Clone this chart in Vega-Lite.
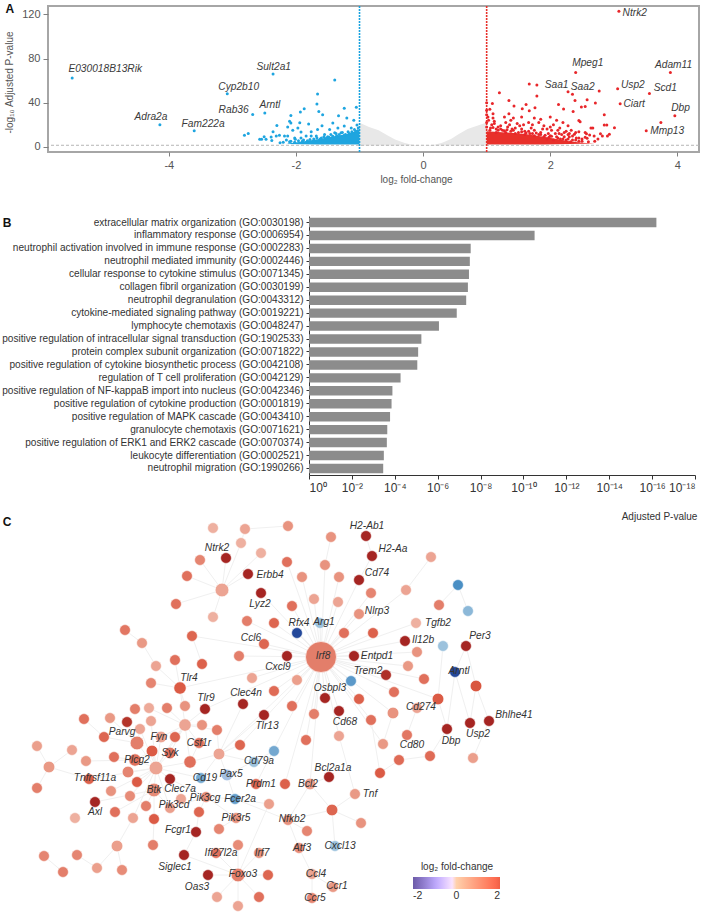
{"$schema":"https://vega.github.io/schema/vega-lite/v6.json",
"padding":{"left":1,"top":1,"right":0,"bottom":0},
"bounds":"flush","spacing":64,
"config":{"font":"Liberation Sans","view":{"stroke":null},"text":{"font":"Liberation Sans"}},
"datasets":{
"nodes":[
{"id":1,"x":212,"y":527,"fc":1,"degree":2},{"id":2,"x":244,"y":528,"fc":1.2,"degree":2},{"id":3,"x":287,"y":525,"fc":1.5,"degree":2},{"id":4,"x":330,"y":536,"fc":1.5,"degree":2},{"id":5,"x":365,"y":535,"fc":3.5,"degree":2},{"id":6,"x":371,"y":555,"fc":3.5,"degree":2},{"id":7,"x":240,"y":542,"fc":1,"degree":2},{"id":8,"x":260,"y":552,"fc":1,"degree":2},{"id":9,"x":225,"y":557,"fc":3.5,"degree":2},{"id":10,"x":199,"y":559,"fc":1.7,"degree":2},
{"id":11,"x":286,"y":561,"fc":2,"degree":2},{"id":12,"x":324,"y":564,"fc":1.5,"degree":2},{"id":13,"x":430,"y":556,"fc":1.2,"degree":2},{"id":14,"x":186,"y":575,"fc":2,"degree":2},{"id":15,"x":247,"y":573,"fc":3.5,"degree":2},{"id":16,"x":221,"y":589,"fc":1.2,"degree":6},{"id":17,"x":301,"y":576,"fc":1.5,"degree":2},{"id":18,"x":338,"y":576,"fc":1.5,"degree":2},{"id":19,"x":358,"y":579,"fc":3.5,"degree":2},{"id":20,"x":260,"y":592,"fc":3.5,"degree":2},
{"id":21,"x":370,"y":592,"fc":1.7,"degree":2},{"id":22,"x":405,"y":589,"fc":1.2,"degree":2},{"id":23,"x":457,"y":584,"fc":-2,"degree":2},{"id":24,"x":175,"y":603,"fc":2,"degree":2},{"id":25,"x":313,"y":598,"fc":1.2,"degree":2},{"id":26,"x":337,"y":601,"fc":1.2,"degree":2},{"id":27,"x":291,"y":605,"fc":2,"degree":2},{"id":28,"x":438,"y":604,"fc":1.8,"degree":2},{"id":29,"x":467,"y":610,"fc":-1.2,"degree":2},{"id":30,"x":212,"y":616,"fc":1,"degree":2},
{"id":31,"x":358,"y":613,"fc":1.5,"degree":2},{"id":32,"x":246,"y":620,"fc":1.8,"degree":2},{"id":33,"x":273,"y":622,"fc":2.2,"degree":2},{"id":34,"x":319,"y":622,"fc":-1,"degree":2},{"id":35,"x":296,"y":632,"fc":-3,"degree":2},{"id":36,"x":415,"y":622,"fc":1,"degree":2},{"id":37,"x":343,"y":632,"fc":2,"degree":2},{"id":38,"x":372,"y":632,"fc":2.3,"degree":2},{"id":39,"x":191,"y":635,"fc":2.2,"degree":2},{"id":40,"x":404,"y":640,"fc":3.5,"degree":2},
{"id":41,"x":263,"y":643,"fc":2.2,"degree":2},{"id":42,"x":442,"y":645,"fc":-1,"degree":2},{"id":43,"x":465,"y":645,"fc":3.5,"degree":2},{"id":44,"x":416,"y":651,"fc":1.5,"degree":2},{"id":45,"x":238,"y":655,"fc":1.8,"degree":2},{"id":46,"x":286,"y":655,"fc":3.5,"degree":2},{"id":47,"x":320,"y":656,"fc":1.8,"degree":50},{"id":48,"x":353,"y":655,"fc":3.5,"degree":2},{"id":49,"x":174,"y":659,"fc":2,"degree":2},{"id":50,"x":201,"y":663,"fc":2.3,"degree":2},
{"id":51,"x":155,"y":665,"fc":1.2,"degree":2},{"id":52,"x":407,"y":665,"fc":1.4,"degree":2},{"id":53,"x":454,"y":671,"fc":-3,"degree":2},{"id":54,"x":385,"y":674,"fc":3.3,"degree":2},{"id":55,"x":423,"y":678,"fc":2,"degree":2},{"id":56,"x":251,"y":677,"fc":1.2,"degree":2},{"id":57,"x":296,"y":679,"fc":1.3,"degree":2},{"id":58,"x":350,"y":680,"fc":-1.8,"degree":2},{"id":59,"x":475,"y":685,"fc":2.5,"degree":3},{"id":60,"x":179,"y":687,"fc":2.4,"degree":4},
{"id":61,"x":150,"y":682,"fc":1.7,"degree":2},{"id":62,"x":273,"y":690,"fc":2.1,"degree":2},{"id":63,"x":324,"y":697,"fc":3.5,"degree":2},{"id":64,"x":393,"y":691,"fc":2,"degree":2},{"id":65,"x":358,"y":698,"fc":2.3,"degree":2},{"id":66,"x":437,"y":698,"fc":2.4,"degree":3},{"id":67,"x":242,"y":703,"fc":3.5,"degree":2},{"id":68,"x":204,"y":708,"fc":3.5,"degree":2},{"id":69,"x":184,"y":705,"fc":1.5,"degree":2},{"id":70,"x":166,"y":707,"fc":1.8,"degree":2},
{"id":71,"x":291,"y":705,"fc":2,"degree":2},{"id":72,"x":338,"y":710,"fc":3.5,"degree":2},{"id":73,"x":263,"y":714,"fc":3.5,"degree":2},{"id":74,"x":392,"y":712,"fc":1.5,"degree":3},{"id":75,"x":416,"y":707,"fc":1.2,"degree":2},{"id":76,"x":406,"y":734,"fc":1.9,"degree":2},{"id":77,"x":446,"y":728,"fc":3.5,"degree":2},{"id":78,"x":469,"y":722,"fc":3.5,"degree":2},{"id":79,"x":488,"y":720,"fc":3.5,"degree":2},{"id":80,"x":313,"y":713,"fc":1.8,"degree":2},
{"id":81,"x":370,"y":719,"fc":2,"degree":2},{"id":82,"x":338,"y":735,"fc":1.2,"degree":2},{"id":83,"x":305,"y":739,"fc":2,"degree":2},{"id":84,"x":382,"y":743,"fc":1.4,"degree":2},{"id":85,"x":429,"y":755,"fc":2.1,"degree":2},{"id":86,"x":472,"y":757,"fc":1.3,"degree":2},{"id":87,"x":398,"y":759,"fc":2.1,"degree":2},{"id":88,"x":379,"y":772,"fc":2.4,"degree":2},{"id":89,"x":328,"y":776,"fc":3.5,"degree":2},{"id":90,"x":309,"y":783,"fc":1.3,"degree":3},
{"id":91,"x":284,"y":783,"fc":2.3,"degree":2},{"id":92,"x":354,"y":793,"fc":1.4,"degree":2},{"id":93,"x":331,"y":809,"fc":2.2,"degree":3},{"id":94,"x":360,"y":822,"fc":1.5,"degree":2},{"id":95,"x":287,"y":819,"fc":1.5,"degree":2},{"id":96,"x":306,"y":830,"fc":1.7,"degree":2},{"id":97,"x":298,"y":847,"fc":1.6,"degree":2},{"id":98,"x":334,"y":845,"fc":-1,"degree":2},{"id":99,"x":311,"y":873,"fc":1.2,"degree":2},{"id":100,"x":332,"y":886,"fc":1.4,"degree":2},
{"id":101,"x":311,"y":897,"fc":1.7,"degree":2},{"id":102,"x":134,"y":708,"fc":1.8,"degree":2},{"id":103,"x":148,"y":707,"fc":1.1,"degree":2},{"id":104,"x":83,"y":718,"fc":2,"degree":2},{"id":105,"x":109,"y":717,"fc":1.4,"degree":2},{"id":106,"x":126,"y":721,"fc":3.2,"degree":2},{"id":107,"x":150,"y":720,"fc":1.2,"degree":2},{"id":108,"x":184,"y":724,"fc":1.2,"degree":4},{"id":109,"x":201,"y":724,"fc":1.5,"degree":2},{"id":110,"x":216,"y":729,"fc":1.8,"degree":2},
{"id":111,"x":139,"y":728,"fc":1.2,"degree":2},{"id":112,"x":103,"y":736,"fc":2.2,"degree":2},{"id":113,"x":160,"y":736,"fc":1.2,"degree":3},{"id":114,"x":174,"y":736,"fc":2.2,"degree":2},{"id":115,"x":136,"y":742,"fc":1.8,"degree":6},{"id":116,"x":36,"y":745,"fc":1.3,"degree":2},{"id":117,"x":71,"y":749,"fc":1.2,"degree":2},{"id":118,"x":198,"y":742,"fc":2,"degree":2},{"id":119,"x":239,"y":744,"fc":2.2,"degree":2},{"id":120,"x":273,"y":750,"fc":-1.5,"degree":2},
{"id":121,"x":151,"y":750,"fc":2.4,"degree":3},{"id":122,"x":169,"y":752,"fc":2,"degree":3},{"id":123,"x":218,"y":753,"fc":1.2,"degree":3},{"id":124,"x":113,"y":756,"fc":2,"degree":2},{"id":125,"x":134,"y":759,"fc":2,"degree":4},{"id":126,"x":85,"y":760,"fc":1.4,"degree":2},{"id":127,"x":189,"y":761,"fc":2,"degree":4},{"id":128,"x":48,"y":766,"fc":1.4,"degree":3},{"id":129,"x":155,"y":767,"fc":1.2,"degree":6},{"id":130,"x":253,"y":761,"fc":-1,"degree":2},
{"id":131,"x":127,"y":771,"fc":1.7,"degree":3},{"id":132,"x":226,"y":774,"fc":-0.8,"degree":3},{"id":133,"x":200,"y":777,"fc":-1.5,"degree":2},{"id":134,"x":136,"y":781,"fc":2.4,"degree":2},{"id":135,"x":169,"y":778,"fc":3.5,"degree":2},{"id":136,"x":88,"y":778,"fc":2.3,"degree":2},{"id":137,"x":255,"y":783,"fc":2.2,"degree":2},{"id":138,"x":36,"y":787,"fc":1.8,"degree":2},{"id":139,"x":110,"y":790,"fc":1.5,"degree":2},{"id":140,"x":153,"y":789,"fc":1.6,"degree":6},
{"id":141,"x":205,"y":796,"fc":1.6,"degree":2},{"id":142,"x":129,"y":795,"fc":1.6,"degree":2},{"id":143,"x":234,"y":798,"fc":-1.7,"degree":2},{"id":144,"x":180,"y":798,"fc":1.2,"degree":2},{"id":145,"x":268,"y":803,"fc":1.3,"degree":2},{"id":146,"x":94,"y":801,"fc":3.5,"degree":2},{"id":147,"x":145,"y":805,"fc":1.8,"degree":2},{"id":148,"x":169,"y":807,"fc":1.3,"degree":2},{"id":149,"x":114,"y":811,"fc":2,"degree":2},{"id":150,"x":198,"y":811,"fc":2.2,"degree":2},
{"id":151,"x":74,"y":817,"fc":1,"degree":2},{"id":152,"x":132,"y":817,"fc":1.2,"degree":2},{"id":153,"x":153,"y":818,"fc":2.4,"degree":2},{"id":154,"x":235,"y":817,"fc":1.5,"degree":2},{"id":155,"x":218,"y":828,"fc":1.7,"degree":2},{"id":156,"x":195,"y":831,"fc":3.5,"degree":2},{"id":157,"x":152,"y":844,"fc":1.8,"degree":2},{"id":158,"x":116,"y":845,"fc":1.3,"degree":3},{"id":159,"x":237,"y":844,"fc":1.6,"degree":2},{"id":160,"x":215,"y":852,"fc":2,"degree":2},
{"id":161,"x":258,"y":852,"fc":1.5,"degree":2},{"id":162,"x":183,"y":854,"fc":3.5,"degree":2},{"id":163,"x":43,"y":855,"fc":1.7,"degree":2},{"id":164,"x":76,"y":854,"fc":1.7,"degree":2},{"id":165,"x":96,"y":867,"fc":1.3,"degree":2},{"id":166,"x":121,"y":869,"fc":1.6,"degree":2},{"id":167,"x":62,"y":871,"fc":1.8,"degree":2},{"id":168,"x":237,"y":874,"fc":1.8,"degree":6},{"id":169,"x":207,"y":874,"fc":3.5,"degree":2},{"id":170,"x":267,"y":874,"fc":2.2,"degree":2},
{"id":171,"x":216,"y":896,"fc":1.2,"degree":2},{"id":172,"x":258,"y":896,"fc":2,"degree":2},{"id":173,"x":237,"y":905,"fc":1.2,"degree":2},{"id":174,"x":124,"y":629,"fc":1.9,"degree":2},{"id":175,"x":141,"y":642,"fc":1.4,"degree":2}
],
"edges":[
{"a":47,"b":12},{"a":47,"b":11},{"a":47,"b":17},{"a":47,"b":18},{"a":47,"b":19},{"a":47,"b":21},{"a":47,"b":22},{"a":47,"b":25},{"a":47,"b":26},{"a":47,"b":27},{"a":47,"b":31},{"a":47,"b":33},{"a":47,"b":34},{"a":47,"b":35},{"a":47,"b":37},{"a":47,"b":38},{"a":47,"b":32},{"a":47,"b":41},{"a":47,"b":45},{"a":47,"b":46},{"a":47,"b":48},{"a":47,"b":40},{"a":47,"b":36},{"a":47,"b":44},{"a":47,"b":52},{"a":47,"b":54},{"a":47,"b":55},{"a":47,"b":56},{"a":47,"b":57},{"a":47,"b":58},{"a":47,"b":60},{"a":47,"b":62},{"a":47,"b":63},{"a":47,"b":64},{"a":47,"b":65},{"a":47,"b":66},{"a":47,"b":71},{"a":47,"b":72},{"a":47,"b":74},{"a":47,"b":80},{"a":47,"b":81},{"a":47,"b":83},{"a":47,"b":84},{"a":47,"b":82},{"a":47,"b":39},{"a":47,"b":90},{"a":47,"b":91},{"a":47,"b":68},{"a":47,"b":123},{"a":47,"b":119},
{"a":4,"b":12},{"a":5,"b":6},{"a":6,"b":19},{"a":13,"b":22},{"a":23,"b":29},{"a":23,"b":28},{"a":42,"b":66},{"a":43,"b":53},{"a":43,"b":59},{"a":53,"b":77},{"a":53,"b":78},{"a":59,"b":78},{"a":59,"b":79},{"a":79,"b":86},{"a":77,"b":66},{"a":85,"b":77},{"a":85,"b":87},{"a":87,"b":88},{"a":88,"b":81},{"a":92,"b":82},{"a":92,"b":93},{"a":93,"b":94},{"a":93,"b":90},{"a":93,"b":95},{"a":93,"b":98},{"a":90,"b":95},{"a":90,"b":89},{"a":95,"b":97},{"a":97,"b":99},{"a":99,"b":100},{"a":99,"b":101},{"a":75,"b":76},{"a":75,"b":66},{"a":74,"b":84},
{"a":2,"b":3},{"a":2,"b":7},{"a":7,"b":16},{"a":8,"b":16},{"a":9,"b":16},{"a":10,"b":16},{"a":14,"b":16},{"a":15,"b":16},{"a":24,"b":16},{"a":30,"b":16},{"a":20,"b":47},
{"a":174,"b":175},{"a":175,"b":51},{"a":51,"b":60},{"a":61,"b":60},{"a":49,"b":60},{"a":50,"b":39},{"a":60,"b":69},{"a":60,"b":108},{"a":68,"b":108},{"a":67,"b":123},{"a":73,"b":123},
{"a":108,"b":103},{"a":108,"b":70},{"a":108,"b":109},{"a":108,"b":110},{"a":108,"b":113},{"a":108,"b":114},{"a":108,"b":122},{"a":108,"b":118},{"a":108,"b":127},{"a":129,"b":108},{"a":129,"b":113},{"a":129,"b":114},{"a":129,"b":115},{"a":129,"b":121},{"a":129,"b":122},{"a":129,"b":125},{"a":129,"b":127},{"a":129,"b":131},{"a":129,"b":134},{"a":129,"b":135},{"a":129,"b":140},{"a":129,"b":111},{"a":129,"b":107},{"a":129,"b":152},{"a":129,"b":148},{"a":129,"b":142},{"a":115,"b":106},{"a":115,"b":105},{"a":115,"b":112},{"a":115,"b":111},{"a":104,"b":112},{"a":124,"b":125},{"a":126,"b":125},{"a":125,"b":121},{"a":128,"b":116},{"a":128,"b":117},{"a":128,"b":138},{"a":128,"b":136},{"a":136,"b":129},{"a":139,"b":129},{"a":140,"b":146},{"a":140,"b":147},{"a":140,"b":153},{"a":140,"b":148},{"a":140,"b":149},{"a":153,"b":157},{"a":152,"b":158},{"a":158,"b":165},{"a":158,"b":166},{"a":164,"b":165},{"a":163,"b":167},{"a":127,"b":118},{"a":127,"b":123},{"a":123,"b":119},{"a":123,"b":110},{"a":133,"b":129},{"a":133,"b":123},{"a":132,"b":123},{"a":132,"b":143},{"a":130,"b":123},{"a":120,"b":132},{"a":143,"b":141},{"a":143,"b":95},{"a":141,"b":150},{"a":141,"b":154},{"a":141,"b":135},{"a":141,"b":148},{"a":150,"b":156},{"a":144,"b":135},{"a":154,"b":155},{"a":156,"b":162},{"a":162,"b":168},{"a":168,"b":159},{"a":168,"b":160},{"a":168,"b":161},{"a":168,"b":169},{"a":168,"b":170},{"a":168,"b":171},{"a":168,"b":172},{"a":168,"b":173},{"a":145,"b":168},{"a":145,"b":143},{"a":137,"b":47},{"a":95,"b":96}
],
"labels":[
{"gene":"H2-Ab1","x":366,"y":525},{"gene":"H2-Aa","x":392,"y":548},{"gene":"Ntrk2","x":216,"y":547},{"gene":"Erbb4","x":269,"y":574},{"gene":"Cd74","x":376,"y":572},{"gene":"Lyz2","x":259,"y":603},{"gene":"Nlrp3","x":376,"y":610},{"gene":"Tgfb2","x":437,"y":622},{"gene":"Rfx4","x":298,"y":622},{"gene":"Arg1","x":323,"y":621},{"gene":"Il12b","x":422,"y":639},{"gene":"Per3","x":479,"y":635},{"gene":"Ccl6","x":250,"y":637},{"gene":"Irf8","x":322,"y":655},{"gene":"Entpd1","x":376,"y":655},{"gene":"Cxcl9","x":277,"y":666},{"gene":"Trem2","x":367,"y":670},{"gene":"Arntl","x":458,"y":670},{"gene":"Tlr4","x":188,"y":677},{"gene":"Osbpl3","x":329,"y":687},{"gene":"Clec4n","x":245,"y":692},{"gene":"Tlr9","x":205,"y":697},{"gene":"Cd274","x":420,"y":706},{"gene":"Cd68","x":344,"y":721},{"gene":"Cd80","x":411,"y":744},{"gene":"Dbp","x":450,"y":740},{"gene":"Usp2","x":477,"y":733},{"gene":"Bhlhe41","x":513,"y":714},{"gene":"Bcl2a1a","x":332,"y":767},{"gene":"Bcl2","x":307,"y":783},{"gene":"Tnf","x":369,"y":793},{"gene":"Nfkb2","x":291,"y":818},{"gene":"Atf3","x":301,"y":847},{"gene":"Cxcl13","x":339,"y":845},{"gene":"Ccl4","x":315,"y":873},{"gene":"Ccr1","x":336,"y":885},{"gene":"Ccr5","x":314,"y":897},{"gene":"Parvg","x":121,"y":731},{"gene":"Fyn","x":158,"y":736},{"gene":"Csf1r","x":198,"y":742},{"gene":"Syk","x":169,"y":752},{"gene":"Plcg2","x":136,"y":759},{"gene":"Cd79a","x":258,"y":760},{"gene":"Cd19","x":204,"y":777},{"gene":"Pax5","x":230,"y":773},{"gene":"Tnfrsf11a","x":94,"y":777},{"gene":"Prdm1","x":260,"y":783},{"gene":"Clec7a","x":179,"y":788},{"gene":"Btk","x":153,"y":789},{"gene":"Pik3cg","x":204,"y":797},{"gene":"Fcer2a","x":239,"y":798},{"gene":"Pik3cd","x":173,"y":804},{"gene":"Axl","x":94,"y":811},{"gene":"Pik3r5","x":235,"y":817},{"gene":"Fcgr1","x":177,"y":829},{"gene":"Ifi27l2a","x":220,"y":852},{"gene":"Irf7","x":261,"y":852},{"gene":"Siglec1","x":174,"y":866},{"gene":"Foxo3","x":242,"y":873},{"gene":"Oas3","x":196,"y":886},{"gene":"Tlr13","x":266,"y":725}
],
"volcanoUp":[
{"lfc":3.08,"p":123},{"lfc":2.4,"p":67.4},{"lfc":3.89,"p":67.4},{"lfc":2.28,"p":49.9},{"lfc":2.35,"p":47.5},{"lfc":2.77,"p":50.5},{"lfc":3.06,"p":52.6},{"lfc":3.56,"p":48.4},{"lfc":3.1,"p":39},{"lfc":3.96,"p":28},{"lfc":3.74,"p":22},{"lfc":3.51,"p":14.5},{"lfc":1.67,"p":56.8},{"lfc":1.79,"p":56},{"lfc":1.79,"p":46},{"lfc":1.2,"p":49},{"lfc":1.0,"p":40},{"lfc":1.09,"p":39.3},{"lfc":1.35,"p":42},{"lfc":1.43,"p":36.9},{"lfc":1.62,"p":38.4},{"lfc":1.56,"p":34.5},{"lfc":1.67,"p":32.7},{"lfc":1.76,"p":35.4},{"lfc":2.13,"p":38.4},{"lfc":2.21,"p":34.2},{"lfc":2.39,"p":42},{"lfc":2.58,"p":42.6},{"lfc":2.71,"p":39.6},{"lfc":2.49,"p":36},{"lfc":2.55,"p":36.6},{"lfc":2.36,"p":32},{"lfc":2.45,"p":23.9},{"lfc":2.47,"p":22.7},{"lfc":2.85,"p":29},{"lfc":2.85,"p":19.7},{"lfc":2.89,"p":19.7},{"lfc":3.01,"p":17.2},{"lfc":2.64,"p":16.9},{"lfc":2.67,"p":16.9},{"lfc":2.45,"p":13.6},{"lfc":2.57,"p":11.8},{"lfc":2.62,"p":10.6},{"lfc":2.58,"p":7.6},{"lfc":2.69,"p":9.7},{"lfc":2.79,"p":11.8},{"lfc":2.93,"p":11.2},{"lfc":2.9,"p":9.7},{"lfc":2.82,"p":9.7},{"lfc":2.38,"p":11.2},{"lfc":2.41,"p":8},{"lfc":2.35,"p":9.7},
{"lfc":1.02,"p":27},{"lfc":1.03,"p":24},{"lfc":1.08,"p":20},{"lfc":1.12,"p":21},{"lfc":1.06,"p":17},{"lfc":1.15,"p":16},{"lfc":1.22,"p":19},{"lfc":1.25,"p":15},{"lfc":1.3,"p":22},{"lfc":1.33,"p":18},{"lfc":1.38,"p":24},{"lfc":1.42,"p":26},{"lfc":1.48,"p":21},{"lfc":1.45,"p":17},{"lfc":1.52,"p":19},{"lfc":1.55,"p":16},{"lfc":1.6,"p":14},{"lfc":1.66,"p":22},{"lfc":1.7,"p":17},{"lfc":1.75,"p":15},{"lfc":1.82,"p":22},{"lfc":1.85,"p":13},{"lfc":1.9,"p":19},{"lfc":1.95,"p":16},{"lfc":2.0,"p":27},{"lfc":2.02,"p":15},{"lfc":2.05,"p":20},{"lfc":2.08,"p":12},{"lfc":2.1,"p":24},{"lfc":2.15,"p":17},{"lfc":2.18,"p":11},{"lfc":2.2,"p":22},{"lfc":2.25,"p":14},{"lfc":2.28,"p":19},{"lfc":2.3,"p":9},{"lfc":2.33,"p":15},{"lfc":2.12,"p":8},{"lfc":2.2,"p":7},{"lfc":2.25,"p":6},{"lfc":2.4,"p":6},{"lfc":2.45,"p":8},{"lfc":2.5,"p":5},{"lfc":2.55,"p":13},{"lfc":1.15,"p":13},{"lfc":1.3,"p":13},{"lfc":1.45,"p":12},{"lfc":1.6,"p":11},{"lfc":1.75,"p":10},{"lfc":1.9,"p":9},{"lfc":1.95,"p":7},{"lfc":2.05,"p":6},{"lfc":1.1,"p":30},{"lfc":1.35,"p":30},{"lfc":1.28,"p":27},{"lfc":1.55,"p":27},{"lfc":1.75,"p":26},{"lfc":1.85,"p":25},{"lfc":1.1,"p":26},{"lfc":1.97,"p":12},{"lfc":1.68,"p":12},{"lfc":1.82,"p":11},{"lfc":2.0,"p":10},{"lfc":2.14,"p":12},{"lfc":2.28,"p":11},
{"lfc":1.05,"p":15},{"lfc":1.1,"p":17.5},{"lfc":1.18,"p":15},{"lfc":1.22,"p":16},{"lfc":1.28,"p":14.5},{"lfc":1.32,"p":15.5},{"lfc":1.38,"p":14},{"lfc":1.42,"p":15},{"lfc":1.5,"p":13},{"lfc":1.55,"p":13.5},{"lfc":1.62,"p":12.5},{"lfc":1.66,"p":14},{"lfc":1.72,"p":12},{"lfc":1.78,"p":12.5},{"lfc":1.85,"p":11},{"lfc":1.92,"p":10.5},{"lfc":1.98,"p":8.5},{"lfc":2.02,"p":9.5},{"lfc":2.1,"p":9},{"lfc":2.16,"p":7},{"lfc":2.22,"p":9},{"lfc":2.28,"p":7},{"lfc":2.35,"p":6},{"lfc":2.32,"p":4.5},{"lfc":2.5,"p":7},{"lfc":2.6,"p":4.5},{"lfc":2.7,"p":5},{"lfc":2.75,"p":7},{"lfc":2.55,"p":8.5},{"lfc":2.45,"p":5},{"lfc":1.12,"p":23},{"lfc":1.18,"p":18},{"lfc":1.36,"p":20},{"lfc":1.4,"p":16},{"lfc":1.58,"p":20},{"lfc":1.72,"p":20},{"lfc":1.88,"p":16},{"lfc":2.0,"p":18},{"lfc":2.12,"p":15},{"lfc":2.22,"p":13},{"lfc":2.3,"p":12},{"lfc":2.4,"p":13},{"lfc":1.05,"p":34},{"lfc":1.0,"p":33},{"lfc":1.0,"p":29},{"lfc":1.0,"p":22},{"lfc":1.0,"p":18}
],
"volcanoDown":[
{"lfc":-5.52,"p":62.3},{"lfc":-4.14,"p":20},{"lfc":-3.6,"p":14.5},{"lfc":-3.08,"p":48},{"lfc":-2.36,"p":66},{"lfc":-2.68,"p":29.3},{"lfc":-2.49,"p":30.5},{"lfc":-1.39,"p":60.5},{"lfc":-1.66,"p":47.8},{"lfc":-1.67,"p":38.7},{"lfc":-1.64,"p":32},{"lfc":-1.58,"p":29},{"lfc":-1.24,"p":35},{"lfc":-1.05,"p":35.7},{"lfc":-1.33,"p":28},{"lfc":-1.2,"p":26},{"lfc":-1.09,"p":24},{"lfc":-2.08,"p":28.4},{"lfc":-1.87,"p":34.5},{"lfc":-1.93,"p":31.4},{"lfc":-2.1,"p":23},{"lfc":-1.94,"p":21.8},{"lfc":-1.8,"p":20.6},{"lfc":-2.08,"p":21.5},{"lfc":-2.13,"p":18},{"lfc":-1.97,"p":17},{"lfc":-2.05,"p":15},{"lfc":-1.92,"p":13.3},{"lfc":-1.76,"p":13.6},{"lfc":-1.59,"p":19},{"lfc":-1.66,"p":15.7},{"lfc":-1.42,"p":21.5},{"lfc":-1.34,"p":17},{"lfc":-1.47,"p":15.7},{"lfc":-1.24,"p":18.7},{"lfc":-1.13,"p":17},{"lfc":-1.04,"p":19.7},{"lfc":-1.39,"p":12.7},{"lfc":-1.29,"p":12.7},{"lfc":-1.18,"p":13.6},{"lfc":-1.08,"p":15.7},{"lfc":-2.3,"p":19.3},{"lfc":-2.36,"p":13.6},{"lfc":-2.75,"p":12},{"lfc":-2.81,"p":10.3},{"lfc":-2.5,"p":9},{"lfc":-2.57,"p":6.7},{"lfc":-2.54,"p":6.7},{"lfc":-2.47,"p":6.7},{"lfc":-2.39,"p":8.8},{"lfc":-2.38,"p":5.7},{"lfc":-2.31,"p":9.7},{"lfc":-2.26,"p":10.3},{"lfc":-2.18,"p":9.7},{"lfc":-2.13,"p":9.7},{"lfc":-2.02,"p":8},{"lfc":-2.01,"p":6.7},{"lfc":-1.92,"p":8},{"lfc":-1.84,"p":9.7},{"lfc":-1.76,"p":9.7},{"lfc":-1.68,"p":9.7},{"lfc":-1.55,"p":11},{"lfc":-1.45,"p":11},{"lfc":-2.15,"p":6},{"lfc":-2.08,"p":5},{"lfc":-1.88,"p":6},{"lfc":-1.72,"p":7},{"lfc":-1.6,"p":8},{"lfc":-1.5,"p":9},{"lfc":-1.36,"p":10},{"lfc":-1.22,"p":11},{"lfc":-1.1,"p":12},{"lfc":-1.03,"p":14.5},
{"lfc":-1.02,"p":17},{"lfc":-1.06,"p":14},{"lfc":-1.12,"p":13.5},{"lfc":-1.16,"p":12},{"lfc":-1.24,"p":10.5},{"lfc":-1.27,"p":13},{"lfc":-1.32,"p":11},{"lfc":-1.37,"p":12},{"lfc":-1.42,"p":9.5},{"lfc":-1.48,"p":8.5},{"lfc":-1.52,"p":8},{"lfc":-1.56,"p":9},{"lfc":-1.62,"p":7},{"lfc":-1.67,"p":8},{"lfc":-1.72,"p":5.5},{"lfc":-1.78,"p":6.5},{"lfc":-1.82,"p":5.5},{"lfc":-1.9,"p":5},{"lfc":-1.96,"p":5.5},{"lfc":-2.02,"p":4},{"lfc":-2.1,"p":4.5},{"lfc":-2.2,"p":4},{"lfc":-2.25,"p":3.5}
],
"volcanoLabels":[
{"gene":"E030018B13Rik","lfc":-5.0,"p":70.4},{"gene":"Sult2a1","lfc":-2.35,"p":72.3},{"gene":"Cyp2b10","lfc":-2.9,"p":54.4},{"gene":"Arntl","lfc":-2.41,"p":38},{"gene":"Rab36","lfc":-2.98,"p":33.3},{"gene":"Adra2a","lfc":-4.28,"p":27},{"gene":"Fam222a","lfc":-3.46,"p":20.9},{"gene":"Ntrk2","lfc":3.33,"p":121},{"gene":"Mpeg1","lfc":2.59,"p":75.9},{"gene":"Adam11","lfc":3.94,"p":73.8},{"gene":"Saa1","lfc":2.1,"p":56.2},{"gene":"Saa2","lfc":2.51,"p":54.1},{"gene":"Usp2","lfc":3.3,"p":55.6},{"gene":"Scd1","lfc":3.81,"p":52.9},{"gene":"Ciart","lfc":3.32,"p":38.7},{"gene":"Dbp","lfc":4.05,"p":35.4},{"gene":"Mmp13","lfc":3.84,"p":14.2}
]
},
"vconcat":[
{"width":651,"height":146,"view":{"stroke":"#a6a6a6","strokeWidth":2},
"layer":[
{"data":{"values":[{"lfc":-1.0,"top":21.8,"floor":1},{"lfc":-0.85,"top":18,"floor":1},{"lfc":-0.7,"top":15,"floor":1},{"lfc":-0.55,"top":10,"floor":1},{"lfc":-0.44,"top":6.5,"floor":1},{"lfc":-0.3,"top":3.5,"floor":1},{"lfc":-0.18,"top":1.8,"floor":1},{"lfc":0,"top":1.2,"floor":1},{"lfc":0.18,"top":1.8,"floor":1},{"lfc":0.3,"top":3.5,"floor":1},{"lfc":0.44,"top":7,"floor":1},{"lfc":0.55,"top":11,"floor":1},{"lfc":0.7,"top":16,"floor":1},{"lfc":0.85,"top":19,"floor":1},{"lfc":1.0,"top":22,"floor":1}]},
"mark":{"type":"area","color":"#e8e8e8"},
"encoding":{"x":{"field":"lfc","type":"quantitative","scale":{"domain":[-5.9,4.34],"nice":false,"zero":false},"axis":{"values":[-4,-2,0,2,4],"labelExpr":"'' + datum.value","grid":false,"domain":false,"tickColor":"#808080","tickSize":4,"labelColor":"#555555","labelFontSize":11,"labelPadding":3,"title":"log₂ fold-change","titleColor":"#555555","titleFontSize":10,"titleFontWeight":"normal","titleX":368,"titleY":22.5}},
"y":{"field":"top","type":"quantitative","scale":{"domain":[-4.8,127.7],"nice":false,"zero":false},"axis":{"values":[0,20,40,60,80,100,120],"labelOverlap":false,"grid":false,"domain":false,"tickColor":"#808080","tickSize":5,"labelColor":"#555555","labelFontSize":11,"labelPadding":3,"title":"-log₁₀ Adjusted P-value","titleColor":"#555555","titleFontSize":10,"titleFontWeight":"normal","titleX":-34,"titleY":76}},
"y2":{"field":"floor"}}},
{"data":{"values":[{"lfc":1.0,"top":14,"floor":2},{"lfc":1.3,"top":13,"floor":2},{"lfc":1.6,"top":11.5,"floor":2},{"lfc":1.9,"top":9,"floor":2},{"lfc":2.1,"top":7,"floor":2.2},{"lfc":2.3,"top":5,"floor":2.5},{"lfc":2.5,"top":3.5,"floor":2.7},{"lfc":2.7,"top":3,"floor":2.9}]},
"mark":{"type":"area","color":"#e8302a"},
"encoding":{"x":{"field":"lfc","type":"quantitative"},"y":{"field":"top","type":"quantitative"},"y2":{"field":"floor"}}},
{"data":{"values":[{"lfc":-1.0,"top":15,"floor":2},{"lfc":-1.2,"top":11.5,"floor":2},{"lfc":-1.4,"top":9.5,"floor":2},{"lfc":-1.66,"top":6.7,"floor":2},{"lfc":-1.92,"top":4.5,"floor":2.2},{"lfc":-2.13,"top":3,"floor":2.5}]},
"mark":{"type":"area","color":"#1fa5df"},
"encoding":{"x":{"field":"lfc","type":"quantitative"},"y":{"field":"top","type":"quantitative"},"y2":{"field":"floor"}}},
{"data":{"values":[{"threshold":1.3}]},"mark":{"type":"rule","color":"#b5b5b5","strokeDash":[3,2],"strokeWidth":1},"encoding":{"y":{"field":"threshold","type":"quantitative"}}},
{"data":{"values":[{"threshold":-1}]},"mark":{"type":"rule","color":"#19a2de","strokeDash":[2,1],"strokeWidth":1.6},"encoding":{"x":{"field":"threshold","type":"quantitative"}}},
{"data":{"values":[{"threshold":1}]},"mark":{"type":"rule","color":"#e8302a","strokeDash":[2,1],"strokeWidth":1.6},"encoding":{"x":{"field":"threshold","type":"quantitative"}}},
{"data":{"name":"volcanoUp"},"mark":{"type":"circle","color":"#e8262a","size":9,"opacity":1},"encoding":{"x":{"field":"lfc","type":"quantitative"},"y":{"field":"p","type":"quantitative"}}},
{"data":{"name":"volcanoDown"},"mark":{"type":"circle","color":"#1ea5e0","size":9,"opacity":1},"encoding":{"x":{"field":"lfc","type":"quantitative"},"y":{"field":"p","type":"quantitative"}}},
{"data":{"name":"volcanoLabels"},"mark":{"type":"text","fontStyle":"italic","fontSize":10.2,"color":"#3a3a3a"},"encoding":{"x":{"field":"lfc","type":"quantitative"},"y":{"field":"p","type":"quantitative"},"text":{"field":"gene"}}},
{"data":{"values":[{"lfc":-6.5,"p":125,"panel":"A"}]},"mark":{"type":"text","fontWeight":"bold","fontSize":12,"color":"#111111"},"encoding":{"x":{"field":"lfc","type":"quantitative"},"y":{"field":"p","type":"quantitative"},"text":{"field":"panel"}}}
]},
{"width":651,"height":259,
"data":{"values":[
{"term":"extracellular matrix organization (GO:0030198)","nlp":16.2},{"term":"inflammatory response (GO:0006954)","nlp":10.52},{"term":"neutrophil activation involved in immune response (GO:0002283)","nlp":7.54},{"term":"neutrophil mediated immunity (GO:0002446)","nlp":7.5},{"term":"cellular response to cytokine stimulus (GO:0071345)","nlp":7.46},{"term":"collagen fibril organization (GO:0030199)","nlp":7.41},{"term":"neutrophil degranulation (GO:0043312)","nlp":7.33},{"term":"cytokine-mediated signaling pathway (GO:0019221)","nlp":6.89},{"term":"lymphocyte chemotaxis (GO:0048247)","nlp":6.06},{"term":"positive regulation of intracellular signal transduction (GO:1902533)","nlp":5.24},{"term":"protein complex subunit organization (GO:0071822)","nlp":5.09},{"term":"positive regulation of cytokine biosynthetic process (GO:0042108)","nlp":5.05},{"term":"regulation of T cell proliferation (GO:0042129)","nlp":4.27},{"term":"positive regulation of NF-kappaB import into nucleus (GO:0042346)","nlp":3.89},{"term":"positive regulation of cytokine production (GO:0001819)","nlp":3.85},{"term":"positive regulation of MAPK cascade (GO:0043410)","nlp":3.78},{"term":"granulocyte chemotaxis (GO:0071621)","nlp":3.65},{"term":"positive regulation of ERK1 and ERK2 cascade (GO:0070374)","nlp":3.63},{"term":"leukocyte differentiation (GO:0002521)","nlp":3.49},{"term":"neutrophil migration (GO:1990266)","nlp":3.46}
]},
"encoding":{"y":{"field":"term","type":"nominal","sort":null,"scale":{"paddingInner":0.27,"paddingOuter":0.14},"axis":{"offset":-261,"title":null,"grid":false,"labelLimit":400,"labelFontSize":10.1,"labelColor":"#333333","labelPadding":3,"domainColor":"#333333","tickColor":"#333333","tickSize":3}}},
"layer":[
{"mark":{"type":"bar","color":"#8c8c8c"},
"encoding":{"x":{"field":"nlp","type":"quantitative","scale":{"domain":[0,18],"range":[261,647],"nice":false},"axis":{"values":[0,2,4,6,8,10,12,14,16,18],"grid":false,"labelExpr":"'10' + (datum.value==0?'⁰':'⁻') + (datum.value==2?'²':datum.value==4?'⁴':datum.value==6?'⁶':datum.value==8?'⁸':datum.value==10?'¹⁰':datum.value==12?'¹²':datum.value==14?'¹⁴':datum.value==16?'¹⁶':datum.value==18?'¹⁸':'')","labelFontSize":12,"labelColor":"#333333","labelPadding":3,"domainColor":"#333333","tickColor":"#333333","tickSize":4,"title":"Adjusted P-value","titleColor":"#333333","titleFontSize":10,"titleFontWeight":"normal","titleX":611,"titleY":36}}}},
{"transform":[{"filter":"datum.nlp > 16"}],"mark":{"type":"text","fontWeight":"bold","fontSize":12,"color":"#111111"},"encoding":{"x":{"datum":-14.08},"text":{"value":"B"}}}
]},
{"width":651,"height":374,
"resolve":{"scale":{"color":"independent"}},
"layer":[
{"data":{"name":"edges"},
"transform":[{"lookup":"a","from":{"data":{"name":"nodes"},"key":"id","fields":["x","y"]},"as":["xa","ya"]},{"lookup":"b","from":{"data":{"name":"nodes"},"key":"id","fields":["x","y"]},"as":["xb","yb"]}],
"mark":{"type":"rule","color":"#f0f0f0","strokeWidth":1},
"encoding":{"x":{"field":"xa","type":"quantitative","axis":null,"scale":{"domain":[47,698],"range":[0,651],"nice":false,"zero":false}},"y":{"field":"ya","type":"quantitative","axis":null,"scale":{"domain":[515,912],"range":[-23,374],"nice":false,"zero":false}},"x2":{"field":"xb"},"y2":{"field":"yb"}}},
{"data":{"name":"nodes"},
"mark":{"type":"circle","opacity":1,"stroke":"#ffffff","strokeWidth":0.6},
"encoding":{"x":{"field":"x","type":"quantitative"},"y":{"field":"y","type":"quantitative"},
"size":{"field":"degree","type":"quantitative","legend":null,"scale":{"domain":[1,50],"range":[100,960],"zero":false}},
"color":{"field":"fc","type":"quantitative","legend":null,"scale":{"domain":[-3,-2,-1,1,1.5,2,2.5,3.5],"range":["#23489a","#4a8fc4","#9cc2dd","#eeb0a0","#e8937f","#e0705c","#d9563f","#a52522"]}}}},
{"data":{"name":"labels"},"mark":{"type":"text","fontStyle":"italic","fontSize":10.2,"color":"#333333"},"encoding":{"x":{"field":"x","type":"quantitative"},"y":{"field":"y","type":"quantitative"},"text":{"field":"gene"}}},
{"data":{"values":[{"x":6,"y":521,"panel":"C"}]},"mark":{"type":"text","fontWeight":"bold","fontSize":12,"color":"#111111"},"encoding":{"x":{"field":"x","type":"quantitative"},"y":{"field":"y","type":"quantitative"},"text":{"field":"panel"}}},
{"data":{"values":[{"scaleValue":-2},{"scaleValue":0},{"scaleValue":2}]},"mark":{"type":"point","opacity":0},
"encoding":{"color":{"field":"scaleValue","type":"quantitative","scale":{"domain":[-2,0,2],"range":["#6c5ba8","#ffffff","#ef5f45"]},"legend":{"orient":"none","legendX":365,"legendY":323,"direction":"horizontal","gradientLength":87,"gradientThickness":12,"values":[-2,0,2],"labelExpr":"'' + datum.value","title":"log₂ fold-change","titleFontSize":10,"titleFontWeight":"normal","titleColor":"#333333","titleAnchor":"middle","titlePadding":5,"labelFontSize":10.5,"labelColor":"#333333"}}}}
]}
]}
